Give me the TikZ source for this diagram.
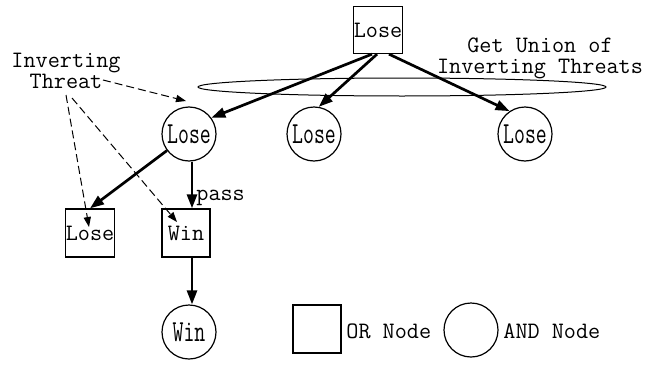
\documentclass[tikz,border=0pt]{standalone}
\usepackage{fontspec}
\usetikzlibrary{arrows.meta,shapes.geometric}
\newcommand\talltext[1]{\scalebox{0.9}[1.3]{#1}}
\begin{document}
\begin{tikzpicture}[x=0.5pt,y=-0.5pt,
  every node/.style={font=\ttfamily\fontsize{11.76}{10.5}\selectfont},
  ornode/.style={draw,line width=0.65pt,minimum width=24pt,minimum height=24pt,inner sep=0pt},
  andnode/.style={draw,circle,line width=0.6pt,minimum size=27pt,inner sep=0pt},
  boldarrow/.style={line width=1.35pt,-{Triangle[length=7pt,width=5pt]}},
  threatarrow/.style={line width=0.5pt,dash pattern=on 4pt off 2pt,-{Triangle[length=5pt,width=3.6pt]}},
  lbl/.style={inner sep=0pt,align=center}]
\useasboundingbox (0,0) rectangle (647,364);
% union ellipse
\node[draw,ellipse,line width=0.5pt,minimum width=204pt,minimum height=9pt,inner sep=0pt] (u) at (402,87) {};
% nodes
\node[ornode,minimum height=23.5pt] (top) at (378,30) {Lose};
\node[andnode] (c1) at (189,134) {\talltext{Lose}};
\node[andnode] (c2) at (314,134) {\talltext{Lose}};
\node[andnode] (c3) at (525,134) {\talltext{Lose}};
\node[ornode] (b1) at (90,233) {Lose};
\node[ornode] (b2) at (186,233) {Win};
\node[andnode] (w3) at (189,332) {\talltext{Win}};
% labels
\node[lbl] (it) at (66,71) {Inverting\\Threat};
\node[lbl] (gu) at (540,58) {Get Union of\\Inverting Threats};
\node[lbl,anchor=west] (pass) at (196,198) {pass};
% legend
\node[ornode] (lor) at (317,329) {};
\node[lbl,anchor=west] (lort) at (346,331) {OR Node};
\node[andnode] (land) at (471,330) {};
\node[lbl,anchor=west] (landt) at (503,331) {AND Node};
% bold arrows
\draw[boldarrow] ([xshift=-3pt]top.south) -- (c1.36);
\draw[boldarrow] ([xshift=-0.5pt]top.south) -- (c2.80);
\draw[boldarrow] ([xshift=5.5pt]top.south) -- (c3.124);
\draw[boldarrow] (c1) -- (b1.north);
\draw[boldarrow] ([xshift=1.5pt]c1.south) -- ([xshift=1.5pt]c1.south |- b2.north);
\draw[boldarrow] ([xshift=1.5pt]w3.north |- b2.south) -- ([xshift=1.5pt]w3.north);
% threat arrows
\coordinate (s1) at (103,80);
\coordinate (e1) at (186,101);
\coordinate (s2) at (66,95);
\coordinate (e2) at (89,227);
\coordinate (s3) at (72,98);
\coordinate (e3) at (177,222);
\draw[threatarrow] (s1) -- (e1);
\draw[threatarrow] (s2) -- (e2);
\draw[threatarrow] (s3) -- (e3);
\end{tikzpicture}
\end{document}
